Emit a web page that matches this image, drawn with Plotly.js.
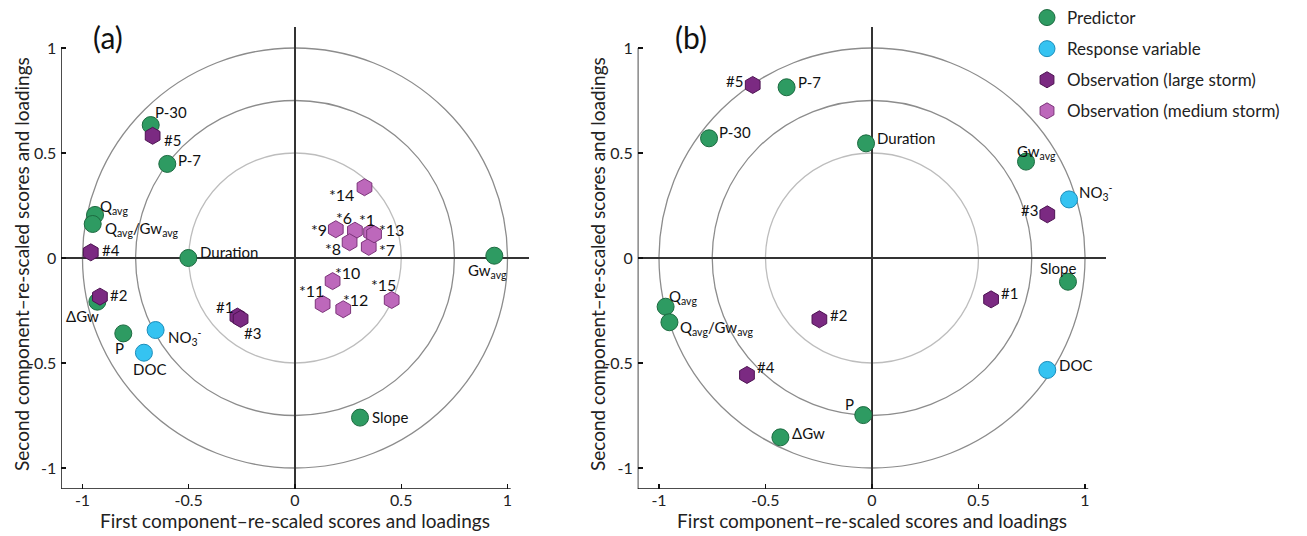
<!DOCTYPE html>
<html>
<head>
<meta charset="utf-8">
<script src="https://cdn.plot.ly/plotly-3.0.1.min.js"></script>
<style>html,body{margin:0;padding:0;background:#fff;}#chart{width:1307px;height:536px;}</style>
</head>
<body>
<div id="chart"></div>
<script>
// ---------- DATA ----------
const tickVals = [-1, -0.5, 0, 0.5, 1];
const tickText = ["-1", "-0.5", "0", "0.5", "1"];
const circleRadii = [0.5, 0.75, 1];

// Panel (a)
const aPredLabels = ["P-30", "P-7", "Q<sub>avg</sub>", "Q<sub>avg</sub>/Gw<sub>avg</sub>", "Duration", "ΔGw", "P", "Gw<sub>avg</sub>", "Slope"];
const aPredX = [-0.679, -0.601, -0.941, -0.952, -0.502, -0.930, -0.808, 0.938, 0.306];
const aPredY = [0.633, 0.448, 0.205, 0.162, 0.000, -0.208, -0.359, 0.011, -0.760];

const aRespLabels = ["NO<sub>3</sub><sup>-</sup>", "DOC"];
const aRespX = [-0.656, -0.711];
const aRespY = [-0.343, -0.451];

const aLargeLabels = ["#1", "#2", "#3", "#4", "#5"];
const aLargeX = [-0.271, -0.918, -0.256, -0.961, -0.670];
const aLargeY = [-0.279, -0.184, -0.290, 0.027, 0.582];

const aMedLabels = ["*1", "*6", "*7", "*8", "*9", "*10", "*11", "*12", "*13", "*14", "*15"];
const aMedX = [0.358, 0.282, 0.347, 0.257, 0.192, 0.177, 0.130, 0.227, 0.372, 0.327, 0.455];
const aMedY = [0.121, 0.130, 0.053, 0.075, 0.137, -0.110, -0.219, -0.244, 0.113, 0.337, -0.200];

// Panel (b)
const bPredLabels = ["P-7", "P-30", "Duration", "Q<sub>avg</sub>", "Q<sub>avg</sub>/Gw<sub>avg</sub>", "Gw<sub>avg</sub>", "Slope", "P", "ΔGw"];
const bPredX = [-0.401, -0.765, -0.028, -0.969, -0.951, 0.723, 0.920, -0.041, -0.430];
const bPredY = [0.813, 0.570, 0.546, -0.232, -0.306, 0.459, -0.113, -0.748, -0.854];

const bRespLabels = ["NO<sub>3</sub><sup>-</sup>", "DOC"];
const bRespX = [0.925, 0.823];
const bRespY = [0.279, -0.533];

const bLargeLabels = ["#1", "#2", "#3", "#4", "#5"];
const bLargeX = [0.559, -0.247, 0.823, -0.587, -0.560];
const bLargeY = [-0.197, -0.292, 0.208, -0.557, 0.824];

const legendNames = ["Predictor", "Response variable", "Observation (large storm)", "Observation (medium storm)"];
const axisTitleX = "First component–re-scaled scores and loadings";
const axisTitleY = "Second component–re-scaled scores and loadings";
const panelLabels = ["(a)", "(b)"];

// ---------- STYLE ----------
const FONT = "Lato, 'Open Sans', sans-serif";
const styles = [
  {symbol: "circle",  size: 17, color: "#2e9b62", line: "#1c6a40", lab: 15},
  {symbol: "circle",  size: 17, color: "#35c3f1", line: "#1b8dbb", lab: 15},
  {symbol: "hexagon", size: 17, color: "#7b2a82", line: "#4d1352", lab: 15},
  {symbol: "hexagon", size: 17, color: "#bd68bb", line: "#7c347a", lab: 16}
];

// label placement: [xanchor, xshift(px), yshift(px)]
const offA = {
  "P-30": ["left", 2, 13], "P-7": ["left", 9, 4], "Q<sub>avg</sub>": ["left", 3, 8],
  "Q<sub>avg</sub>/Gw<sub>avg</sub>": ["left", 10, -5], "Duration": ["left", 10, 6],
  "ΔGw": ["right", 4, -14], "P": ["center", -4, -15], "Gw<sub>avg</sub>": ["left", -28, -15], "Slope": ["left", 10, 1],
  "NO<sub>3</sub><sup>-</sup>": ["left", 10, -7], "DOC": ["center", 6, -16],
  "#1": ["right", -2, 10], "#2": ["left", 8, 2], "#3": ["left", 1, -14], "#4": ["left", 9, 2], "#5": ["left", 9, -4],
  "*1": ["center", -4, 13], "*6": ["right", -1, 13], "*7": ["left", 8, -3], "*8": ["right", -7, -6], "*9": ["right", -7, 0],
  "*10": ["left", 0, 9], "*11": ["right", 3, 13], "*12": ["left", -2, 10], "*13": ["left", 3, 5], "*14": ["right", -8, -7], "*15": ["right", 6, 15]
};
const offB = {
  "P-7": ["left", 9, 5], "P-30": ["left", 8, 6], "Duration": ["left", 9, 5], "Q<sub>avg</sub>": ["left", 1, 10],
  "Q<sub>avg</sub>/Gw<sub>avg</sub>": ["left", 9, -6], "Gw<sub>avg</sub>": ["left", -11, 10], "Slope": ["left", -30, 14],
  "P": ["right", -7, 11], "ΔGw": ["left", 10, 4],
  "NO<sub>3</sub><sup>-</sup>": ["left", 8, 7], "DOC": ["left", 10, 5],
  "#1": ["left", 8, 6], "#2": ["left", 9, 4], "#3": ["right", -7, 4], "#4": ["left", 8, 8], "#5": ["right", -8, 4]
};

function mk(xs, ys, cat, xa, ya, showleg) {
  const s = styles[cat];
  return {
    type: "scatter", mode: "markers",
    x: xs, y: ys,
    marker: {symbol: s.symbol, size: s.size, color: s.color, line: {color: s.line, width: 1}},
    name: legendNames[cat], legendgroup: "g" + cat, showlegend: showleg,
    xaxis: xa, yaxis: ya, hoverinfo: "skip", cliponaxis: false
  };
}

const data = [
  mk(aPredX, aPredY, 0, "x", "y", true),
  mk(aRespX, aRespY, 1, "x", "y", true),
  mk(aLargeX, aLargeY, 2, "x", "y", true),
  mk(aMedX, aMedY, 3, "x", "y", true),
  mk(bPredX, bPredY, 0, "x2", "y2", false),
  mk(bRespX, bRespY, 1, "x2", "y2", false),
  mk(bLargeX, bLargeY, 2, "x2", "y2", false)
];

const annotations = [];
function addLabels(labels, xs, ys, cat, xr, yr, off) {
  labels.forEach((l, i) => {
    const o = off[l] || ["left", 9, 0];
    annotations.push({text: l, x: xs[i], y: ys[i], xref: xr, yref: yr, showarrow: false,
      xanchor: o[0], yanchor: "middle", xshift: o[1], yshift: o[2],
      font: {family: FONT, size: styles[cat].lab, color: "#111"}});
  });
}
addLabels(aPredLabels, aPredX, aPredY, 0, "x", "y", offA);
addLabels(aRespLabels, aRespX, aRespY, 1, "x", "y", offA);
addLabels(aLargeLabels, aLargeX, aLargeY, 2, "x", "y", offA);
addLabels(aMedLabels, aMedX, aMedY, 3, "x", "y", offA);
addLabels(bPredLabels, bPredX, bPredY, 0, "x2", "y2", offB);
addLabels(bRespLabels, bRespX, bRespY, 1, "x2", "y2", offB);
addLabels(bLargeLabels, bLargeX, bLargeY, 2, "x2", "y2", offB);

annotations.push(
  {text: panelLabels[0], xref: "paper", yref: "paper", x: 108 / 1307, y: 1 - 37 / 536, xanchor: "center", yanchor: "middle", showarrow: false, font: {family: FONT, size: 30, color: "#111"}},
  {text: panelLabels[1], xref: "paper", yref: "paper", x: 691 / 1307, y: 1 - 37 / 536, xanchor: "center", yanchor: "middle", showarrow: false, font: {family: FONT, size: 30, color: "#111"}},
  {text: axisTitleY, xref: "paper", yref: "paper", x: 21 / 1307, y: 1 - 264 / 536, textangle: -90, xanchor: "center", yanchor: "middle", showarrow: false, font: {family: FONT, size: 19, color: "#222"}},
  {text: axisTitleY, xref: "paper", yref: "paper", x: 597 / 1307, y: 1 - 264 / 536, textangle: -90, xanchor: "center", yanchor: "middle", showarrow: false, font: {family: FONT, size: 19, color: "#222"}}
);

const shapes = [];
[["x", "y"], ["x2", "y2"]].forEach(([xr, yr]) => {
  circleRadii.forEach((r, i) => {
    shapes.push({type: "circle", xref: xr, yref: yr, x0: -r, x1: r, y0: -r, y1: r,
      line: {color: i === 0 ? "#bdbdbd" : "#8c8c8c", width: 1.3}, layer: "below"});
  });
  shapes.push({type: "line", xref: xr, yref: yr, x0: -1.1, x1: -1.1, y0: -1.1, y1: 1.0, line: {color: "#111", width: 1.5}});
  shapes.push({type: "line", xref: xr, yref: yr, x0: -1.1, x1: 1.015, y0: -1.1, y1: -1.1, line: {color: "#111", width: 1.5}});
});

function ax(domain, anchor, title, isY) {
  return {domain: domain, anchor: anchor, range: [-1.1, 1.1], tickvals: tickVals, ticktext: tickText,
    ticks: "inside", ticklen: 5, tickcolor: "#111", tickwidth: 1.2, showgrid: false, showline: false,
    zeroline: true, zerolinecolor: "#333", zerolinewidth: 1.5,
    ticklabelstandoff: isY ? 4 : 0,
    tickfont: {family: FONT, size: 16, color: "#222"},
    title: {text: title, font: {family: FONT, size: 19, color: "#222"}, standoff: 4},
    fixedrange: true};
}

const layout = {
  width: 1307, height: 536,
  margin: {l: 0, r: 0, t: 0, b: 0},
  paper_bgcolor: "#fff", plot_bgcolor: "rgba(0,0,0,0)",
  font: {family: FONT, color: "#222"},
  xaxis: ax([0.04686, 0.40455], "y", axisTitleX, false),
  yaxis: ax([0.08769, 0.94963], "x", "", true),
  xaxis2: ax([0.48791, 0.84645], "y2", axisTitleX, false),
  yaxis2: ax([0.08769, 0.94963], "x2", "", true),
  shapes: shapes,
  annotations: annotations,
  legend: {x: 1027 / 1307, y: 1.0, xanchor: "left", yanchor: "top", bgcolor: "rgba(0,0,0,0)",
    font: {family: FONT, size: 17, color: "#222"}, traceorder: "grouped", tracegroupgap: 6, itemclick: false},
  showlegend: true
};

Plotly.newPlot("chart", data, layout, {displayModeBar: false, staticPlot: true});
</script>
</body>
</html>
